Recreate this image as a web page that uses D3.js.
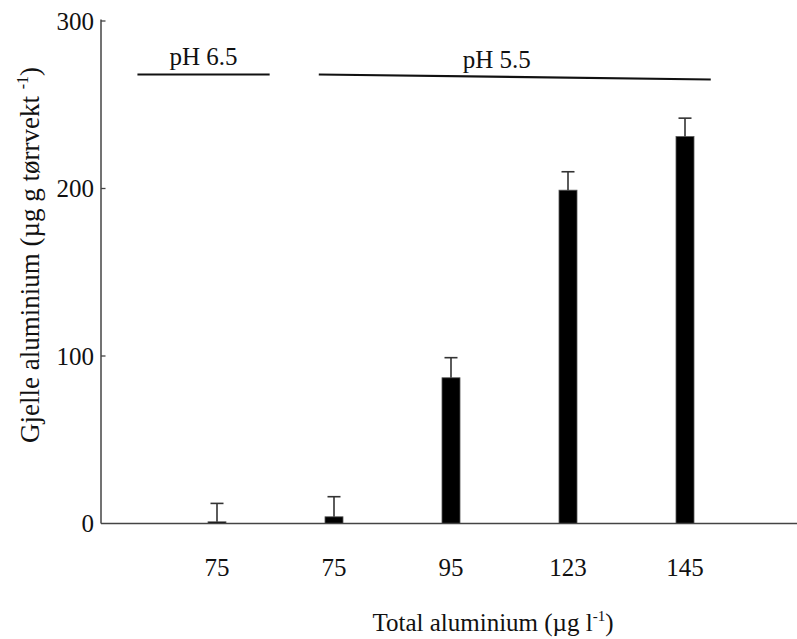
<!DOCTYPE html>
<html>
<head>
<meta charset="utf-8">
<script src="https://cdn.jsdelivr.net/npm/d3@7"></script>
<style>
  html, body { margin: 0; padding: 0; background: #fff; }
  svg { display: block; font-family: "Liberation Serif", "Times New Roman", Times, "DejaVu Serif", serif; }
</style>
</head>
<body>
<svg id="chart" width="797" height="639"></svg>
<script>
// Gill aluminium in fish by total aluminium concentration and pH
const groups   = ["pH 6.5", "pH 5.5", "pH 5.5", "pH 5.5", "pH 5.5"];
const totalAl  = ["75", "75", "95", "123", "145"];
const gillAl   = [1, 4, 87, 199, 231];
const gillErr  = [11, 12, 12, 11, 11];
const yTicks   = [0, 100, 200, 300];

const svg = d3.select("#chart");
const axisColor = "#444";

const x = d3.scalePoint()
  .domain(d3.range(totalAl.length))
  .range([217, 685]);
const step = x.step();

const y = d3.scaleLinear()
  .domain([0, 300])
  .range([523.5, 21]);

const barW = 18;
const capW = 13;

// y axis: plain line with small inward ticks
svg.append("line")
  .attr("x1", 101).attr("x2", 101)
  .attr("y1", y(300) - 1.5).attr("y2", y(0))
  .attr("stroke", axisColor).attr("stroke-width", 1.5);

svg.selectAll(".ytick")
  .data(yTicks.filter(d => d > 0))
  .join("line")
  .attr("class", "ytick")
  .attr("x1", 101).attr("x2", 105.5)
  .attr("y1", d => y(d)).attr("y2", d => y(d))
  .attr("stroke", axisColor).attr("stroke-width", 1.3);

svg.selectAll(".ylab")
  .data(yTicks)
  .join("text")
  .attr("class", "ylab")
  .attr("x", 94)
  .attr("y", d => y(d))
  .attr("dy", "0.35em")
  .attr("text-anchor", "end")
  .attr("font-size", 25)
  .attr("fill", "#111")
  .text(d => d);

// bars
svg.selectAll(".bar")
  .data(gillAl)
  .join("rect")
  .attr("class", "bar")
  .attr("x", (d, i) => x(i) - barW / 2)
  .attr("y", d => y(d))
  .attr("width", barW)
  .attr("height", d => y(0) - y(d))
  .attr("fill", "#000")
  .attr("stroke", "#555")
  .attr("stroke-width", 0.8);

// error bars (upper half only)
const err = svg.selectAll(".err")
  .data(gillAl.map((v, i) => ({ v, e: gillErr[i], i })))
  .join("g")
  .attr("class", "err")
  .attr("stroke", "#333")
  .attr("stroke-width", 1.6);
err.append("line")
  .attr("x1", d => x(d.i)).attr("x2", d => x(d.i))
  .attr("y1", d => y(d.v)).attr("y2", d => y(d.v + d.e));
err.append("line")
  .attr("x1", d => x(d.i) - capW / 2).attr("x2", d => x(d.i) + capW / 2)
  .attr("y1", d => y(d.v + d.e)).attr("y2", d => y(d.v + d.e));

// x axis line
svg.append("line")
  .attr("x1", 101).attr("x2", 797)
  .attr("y1", y(0)).attr("y2", y(0))
  .attr("stroke", axisColor).attr("stroke-width", 1.5);

svg.selectAll(".xlab")
  .data(totalAl)
  .join("text")
  .attr("class", "xlab")
  .attr("x", (d, i) => x(i))
  .attr("y", 576)
  .attr("text-anchor", "middle")
  .attr("font-size", 25)
  .attr("fill", "#111")
  .text(d => d);

// pH group annotations
const phGroups = [
  { label: "pH 6.5", first: 0, last: 0, x0: -0.68, x1: 0.45, y0: 74.5, y1: 74.5, ty: 65 },
  { label: "pH 5.5", first: 1, last: 4, x0: -0.13, x1: 0.22, y0: 74.5, y1: 79.5, ty: 68 }
];
phGroups.forEach(g => {
  const gx0 = x(g.first) + g.x0 * step;
  const gx1 = x(g.last) + g.x1 * step;
  svg.append("line")
    .attr("x1", gx0).attr("x2", gx1)
    .attr("y1", g.y0).attr("y2", g.y1)
    .attr("stroke", "#111").attr("stroke-width", 2.2);
  svg.append("text")
    .attr("x", (gx0 + gx1) / 2 + (g.label === "pH 5.5" ? -18 : 0))
    .attr("y", g.ty)
    .attr("text-anchor", "middle")
    .attr("font-size", 25)
    .attr("fill", "#111")
    .text(g.label);
});

// axis titles
const xt = svg.append("text")
  .attr("x", 493).attr("y", 631)
  .attr("text-anchor", "middle")
  .attr("font-size", 25)
  .attr("fill", "#111");
xt.append("tspan").text("Total aluminium (µg l");
xt.append("tspan").attr("font-size", 15).attr("dy", -10).text("-1");
xt.append("tspan").attr("dy", 10).text(")");

const yt = svg.append("text")
  .attr("transform", "translate(39,255) rotate(-90)")
  .attr("text-anchor", "middle")
  .attr("font-size", 27)
  .attr("fill", "#111");
yt.append("tspan").text("Gjelle aluminium (µg g tørrvekt ");
yt.append("tspan").attr("font-size", 16).attr("dy", -11).text("-1");
yt.append("tspan").attr("dy", 11).text(")");
</script>
</body>
</html>
